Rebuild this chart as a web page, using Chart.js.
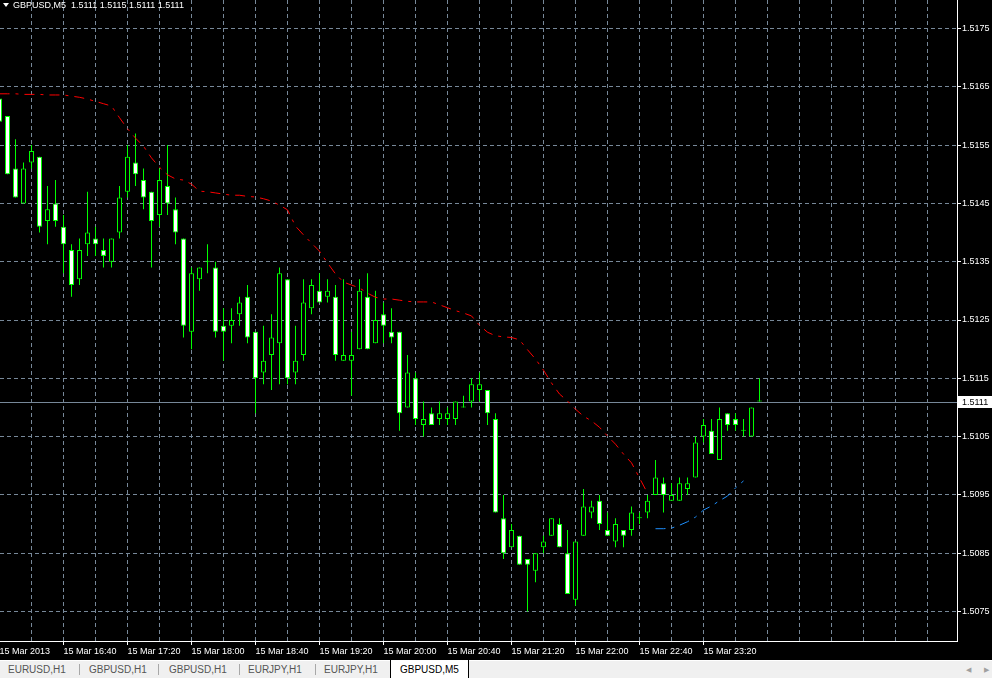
<!DOCTYPE html>
<html>
<head>
<meta charset="utf-8">
<script src="https://cdn.jsdelivr.net/npm/chart.js@4.4.0/dist/chart.umd.min.js"></script>
<style>
  html, body { margin: 0; padding: 0; background: #000; overflow: hidden; }
  #wrap { position: relative; width: 992px; height: 660px; background: #000; }
  #title { position: absolute; left: 3px; top: 0; height: 11px; line-height: 11px; color: #fff;
    font: 9px 'Liberation Sans', Arial, sans-serif; white-space: pre; pointer-events: none; }
  #title .tri { display: inline-block; width: 0; height: 0; border-left: 3.5px solid transparent;
    border-right: 3.5px solid transparent; border-top: 4px solid #fff; margin: 0 4px 1px 0; vertical-align: middle; }
  #tabs { position: relative; width: 992px; height: 17px; background: #f0f0f0; border-top: 1px solid #fff;
    font: 10px 'Liberation Sans', Arial, sans-serif; color: #555; }
  #tabs span { position: absolute; top: 3px; }
  #tabs .sep { position: absolute; top: 3px; width: 1px; height: 11px; background: #a8a8a8; }
  #tabs .active { position: absolute; left: 390px; top: -1px; width: 79px; height: 18px; background: #fff;
    border-left: 1px solid #000; border-right: 1px solid #000; box-sizing: border-box; }
  #tabs .arr { color: #a0a0a0; font-size: 7px; top: 5px; }
</style>
</head>
<body>
<div id="wrap">
  <canvas id="chart"></canvas>
  <div id="title"></div>
</div>
<div id="tabs">
  <span style="left:8px">EURUSD,H1</span>
  <div class="sep" style="left:79px"></div>
  <span style="left:89px">GBPUSD,H1</span>
  <div class="sep" style="left:158px"></div>
  <span style="left:169px">GBPUSD,H1</span>
  <div class="sep" style="left:239px"></div>
  <span style="left:248px">EURJPY,H1</span>
  <div class="sep" style="left:315px"></div>
  <span style="left:324px">EURJPY,H1</span>
  <div class="active"></div>
  <span style="left:400px;color:#000">GBPUSD,M5</span>
  <span class="arr" style="left:966px">&#9664;</span>
  <span class="arr" style="left:984px">&#9654;</span>
</div>
<script>
// GBPUSD M5, 15 Mar 2013 from 16:00, one entry per bar
const openP = [
  1.5163, 1.5160, 1.5151, 1.5145, 1.5152, 1.5153, 1.5142, 1.5145, 1.5141, 1.5137,
  1.5132, 1.5138, 1.5139, 1.5137, 1.5135, 1.5140, 1.5147, 1.5152, 1.5149, 1.5147,
  1.5143, 1.5148, 1.5144, 1.5139, 1.5123, 1.5132, 1.5135, 1.5134, 1.5124, 1.5124,
  1.5126, 1.5129, 1.5123, 1.5116, 1.5119, 1.5121, 1.5132, 1.5116, 1.5119, 1.5127,
  1.5130, 1.5129, 1.5129, 1.5118, 1.5118, 1.5120, 1.5129, 1.5121, 1.5126, 1.5123,
  1.5123, 1.5110, 1.5115, 1.5107, 1.5109, 1.5108, 1.5108, 1.5108, 1.5110, 1.5111,
  1.5113, 1.5113, 1.5108, 1.5091, 1.5086, 1.5088, 1.5084, 1.5082, 1.5086, 1.5088,
  1.5090, 1.5085, 1.5077, 1.5088, 1.5092, 1.5094, 1.5089, 1.5087, 1.5089, 1.5089,
  1.5091, 1.5092, 1.5095, 1.5097, 1.5094, 1.5094, 1.5096, 1.5098, 1.5105, 1.5106,
  1.5101, 1.5109, 1.5108, 1.5106, 1.5105, 1.5111
];
const highP = [
  1.5164, 1.5160, 1.5156, 1.5152, 1.5155, 1.5153, 1.5148, 1.5149, 1.5143, 1.5138,
  1.5139, 1.5147, 1.5141, 1.5139, 1.5139, 1.5148, 1.5155, 1.5157, 1.5151, 1.5147,
  1.5151, 1.5155, 1.5146, 1.5139, 1.5134, 1.5134, 1.5138, 1.5135, 1.5127, 1.5127,
  1.5129, 1.5131, 1.5123, 1.5124, 1.5126, 1.5134, 1.5132, 1.5124, 1.5132, 1.5132,
  1.5133, 1.5132, 1.5131, 1.5132, 1.5123, 1.5132, 1.5133, 1.5130, 1.5128, 1.5127,
  1.5123, 1.5119, 1.5116, 1.5111, 1.5110, 1.5111, 1.5110, 1.5111, 1.5112, 1.5115,
  1.5116, 1.5113, 1.5109, 1.5095, 1.5090, 1.5088, 1.5084, 1.5085, 1.5088, 1.5091,
  1.5091, 1.5089, 1.5087, 1.5096, 1.5094, 1.5095, 1.5092, 1.5091, 1.5089, 1.5093,
  1.5092, 1.5095, 1.5101, 1.5098, 1.5097, 1.5098, 1.5098, 1.5105, 1.5108, 1.5108,
  1.5110, 1.5109, 1.5109, 1.5108, 1.5110, 1.5115
];
const lowP = [
  1.5158, 1.5150, 1.5146, 1.5145, 1.5151, 1.5140, 1.5138, 1.5141, 1.5133, 1.5129,
  1.5131, 1.5136, 1.5136, 1.5134, 1.5134, 1.5139, 1.5146, 1.5148, 1.5144, 1.5134,
  1.5141, 1.5143, 1.5138, 1.5122, 1.5120, 1.5130, 1.5133, 1.5122, 1.5118, 1.5121,
  1.5124, 1.5121, 1.5109, 1.5114, 1.5113, 1.5114, 1.5114, 1.5114, 1.5118, 1.5126,
  1.5128, 1.5128, 1.5118, 1.5118, 1.5112, 1.5120, 1.5120, 1.5121, 1.5121, 1.5121,
  1.5106, 1.5110, 1.5107, 1.5105, 1.5107, 1.5107, 1.5107, 1.5107, 1.5110, 1.5110,
  1.5111, 1.5107, 1.5092, 1.5084, 1.5086, 1.5083, 1.5075, 1.5080, 1.5085, 1.5088,
  1.5086, 1.5078, 1.5076, 1.5088, 1.5091, 1.5089, 1.5088, 1.5086, 1.5086, 1.5088,
  1.5090, 1.5091, 1.5095, 1.5092, 1.5094, 1.5094, 1.5095, 1.5098, 1.5104, 1.5102,
  1.5101, 1.5106, 1.5106, 1.5105, 1.5105, 1.5111
];
const closeP = [
  1.5159, 1.5150, 1.5146, 1.5151, 1.5154, 1.5141, 1.5144, 1.5142, 1.5138, 1.5131,
  1.5137, 1.5140, 1.5138, 1.5136, 1.5139, 1.5146, 1.5153, 1.5150, 1.5146, 1.5142,
  1.5149, 1.5145, 1.5140, 1.5124, 1.5133, 1.5134, 1.5135, 1.5123, 1.5123, 1.5125,
  1.5128, 1.5122, 1.5115, 1.5118, 1.5122, 1.5133, 1.5115, 1.5118, 1.5128, 1.5131,
  1.5128, 1.5130, 1.5119, 1.5119, 1.5119, 1.5130, 1.5120, 1.5125, 1.5124, 1.5122,
  1.5109, 1.5116, 1.5108, 1.5108, 1.5107, 1.5109, 1.5109, 1.5111, 1.5110, 1.5114,
  1.5114, 1.5109, 1.5092, 1.5085, 1.5089, 1.5083, 1.5083, 1.5085, 1.5087, 1.5091,
  1.5086, 1.5078, 1.5087, 1.5093, 1.5093, 1.5090, 1.5088, 1.5090, 1.5088, 1.5092,
  1.5091, 1.5094, 1.5098, 1.5095, 1.5095, 1.5097, 1.5097, 1.5104, 1.5107, 1.5102,
  1.5108, 1.5107, 1.5107, 1.5106, 1.5110, 1.5111
];
// indicator line: red part from bar 0, blue part from bar 82
const redLine = [
  1.51638, 1.51638, 1.51638, 1.51637, 1.51637, 1.51637, 1.51636, 1.51636, 1.51636, 1.51634,
  1.51632, 1.51629, 1.51625, 1.51621, 1.51617, 1.51597, 1.51578, 1.51562, 1.51548, 1.51528,
  1.51512, 1.51499, 1.51492, 1.51490, 1.51483, 1.51471, 1.51470, 1.51468, 1.51466, 1.51464,
  1.51464, 1.51462, 1.51461, 1.51458, 1.51454, 1.51447, 1.51439, 1.51411, 1.51396, 1.51382,
  1.51368, 1.51348, 1.51329, 1.51315, 1.51310, 1.51305, 1.51296, 1.51289, 1.51286, 1.51286,
  1.51284, 1.51282, 1.51281, 1.51281, 1.51281, 1.51276, 1.51271, 1.51266, 1.51262, 1.51257,
  1.51241, 1.51229, 1.51223, 1.51221, 1.51220, 1.51216, 1.51199, 1.51183, 1.51164, 1.51142,
  1.51123, 1.51111, 1.51097, 1.51085, 1.51077, 1.51066, 1.51051, 1.51037, 1.51020, 1.51005,
  1.50979, 1.50953
];
const blueStart = 82;
const blueLine = [
  1.50892, 1.50892, 1.50893, 1.50898, 1.50904, 1.50912, 1.50924, 1.50931, 1.50940, 1.50948,
  1.50962, 1.50974
];
const timeLabels = [
  '15 Mar 2013', '15 Mar 16:40', '15 Mar 17:20', '15 Mar 18:00', '15 Mar 18:40', '15 Mar 19:20',
  '15 Mar 20:00', '15 Mar 20:40', '15 Mar 21:20', '15 Mar 22:00', '15 Mar 22:40', '15 Mar 23:20'
];
const priceTicks = [1.5075, 1.5085, 1.5095, 1.5105, 1.5115, 1.5125, 1.5135, 1.5145, 1.5155, 1.5165, 1.5175];

const GRID = 'rgb(119,136,153)';
const GREEN = '#00ff00';
const last = closeP.length - 1;

document.getElementById('title').innerHTML =
  '<span class="tri"></span>GBPUSD,M5  ' +
  [openP[last], highP[last], lowP[last], closeP[last]].map(v => v.toFixed(4)).join(' ');

const wicks = highP.map((h, i) => ({ x: i, y: [lowP[i], h] }));
const bodies = openP.map((o, i) => ({ x: i, y: [o, closeP[i]] }));
const bodyFill = openP.map((o, i) => (closeP[i] < o ? '#ffffff' : '#000000'));

// current price line and the price box on the right axis
const priceLine = {
  id: 'priceLine',
  beforeDatasetsDraw(chart) {
    const { ctx, chartArea, scales } = chart;
    const y = Math.round(scales.y.getPixelForValue(closeP[last])) + 0.5;
    ctx.save();
    ctx.strokeStyle = GRID;
    ctx.lineWidth = 1;
    ctx.beginPath();
    ctx.moveTo(chartArea.left, y);
    ctx.lineTo(chartArea.right, y);
    ctx.stroke();
    ctx.restore();
  },
  afterDraw(chart) {
    const { ctx, chartArea, scales } = chart;
    const y = Math.round(scales.y.getPixelForValue(closeP[last]));
    ctx.save();
    ctx.fillStyle = '#fff';
    ctx.fillRect(chartArea.right + 1, y - 6, 40, 12);
    ctx.fillStyle = '#000';
    ctx.font = "9px 'Liberation Sans', Arial, sans-serif";
    ctx.textBaseline = 'middle';
    ctx.fillText(closeP[last].toFixed(4), chartArea.right + 5, y + 0.5);
    ctx.restore();
  }
};

Chart.defaults.font.family = "'Liberation Sans', Arial, sans-serif";
Chart.defaults.font.size = 9;
Chart.defaults.color = '#ffffff';

new Chart(document.getElementById('chart'), {
  type: 'bar',
  data: {
    datasets: [
      {
        type: 'line',
        data: redLine.map((v, i) => ({ x: i, y: v })),
        borderColor: '#ff0000',
        borderWidth: 1,
        borderDash: [10, 6, 3, 6],
        pointRadius: 0,
        tension: 0,
        order: 0
      },
      {
        type: 'line',
        data: blueLine.map((v, i) => ({ x: blueStart + i, y: v })),
        borderColor: '#1e90ff',
        borderWidth: 1,
        borderDash: [10, 6, 3, 6],
        pointRadius: 0,
        tension: 0,
        order: 0
      },
      {
        data: bodies,
        backgroundColor: bodyFill,
        borderColor: GREEN,
        borderWidth: 1,
        borderSkipped: false,
        barThickness: 5,
        minBarLength: 1,
        inflateAmount: 0,
        grouped: false,
        order: 1
      },
      {
        data: wicks,
        backgroundColor: GREEN,
        borderWidth: 0,
        barThickness: 1,
        minBarLength: 1,
        inflateAmount: 0,
        grouped: false,
        order: 2
      }
    ]
  },
  options: {
    responsive: true,
    maintainAspectRatio: false,
    animation: false,
    events: [],
    layout: { padding: 0 },
    plugins: { legend: { display: false }, tooltip: { enabled: false } },
    scales: {
      x: {
        type: 'linear',
        offset: false,
        min: 0.0625,
        max: 119.6875,
        afterBuildTicks: (scale) => {
          const t = [];
          for (let k = 0; k <= 116; k += 4) t.push({ value: k });
          scale.ticks = t;
        },
        afterFit: (scale) => {
          scale.height = 19;
          scale.paddingLeft = 0;
          scale.paddingRight = 0;
        },
        ticks: {
          autoSkip: false,
          maxRotation: 0,
          align: 'start',
          padding: 1,
          color: '#fff',
          callback: (v) => (v % 8 === 0 && v / 8 < timeLabels.length ? timeLabels[v / 8] : '')
        },
        grid: {
          offset: false,
          color: GRID,
          lineWidth: 1,
          tickLength: 4,
          tickColor: (ctx) => {
            const v = ctx.tick ? ctx.tick.value : -1;
            return v % 8 === 0 && v / 8 < timeLabels.length ? '#fff' : 'rgba(0,0,0,0)';
          }
        },
        border: { color: '#fff', width: 1, dash: [4, 3] }
      },
      y: {
        type: 'linear',
        position: 'right',
        min: 1.506994,
        max: 1.517989,
        afterBuildTicks: (scale) => {
          scale.ticks = priceTicks.map((v) => ({ value: v }));
        },
        afterFit: (scale) => {
          scale.width = 35;
          scale.paddingTop = 0;
          scale.paddingBottom = 0;
        },
        ticks: {
          padding: 1,
          color: '#fff',
          callback: (v) => Number(v).toFixed(4)
        },
        grid: { color: GRID, lineWidth: 1, tickLength: 4, tickColor: '#fff' },
        border: { color: '#fff', width: 1, dash: [4, 3] }
      }
    }
  },
  plugins: [priceLine]
});
</script>
</body>
</html>
